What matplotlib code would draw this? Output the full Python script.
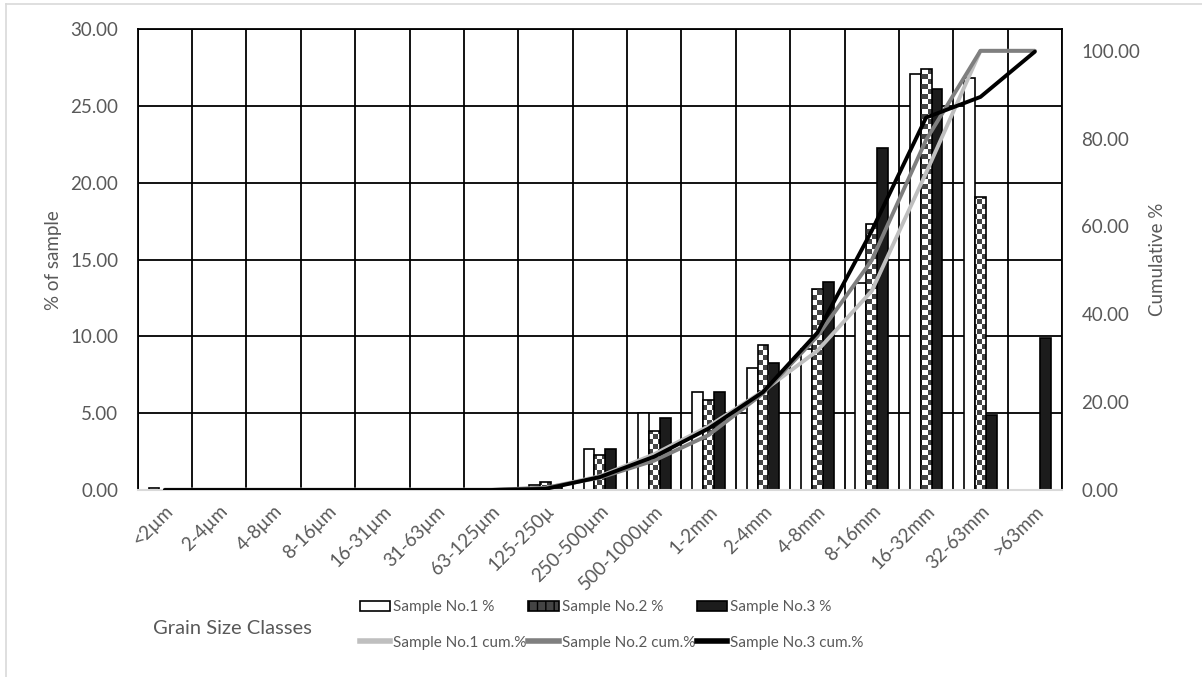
import matplotlib
matplotlib.use("Agg")
import matplotlib.pyplot as plt
import numpy as np
from matplotlib.colors import ListedColormap
from matplotlib.lines import Line2D

classes = ["<2µm", "2-4µm", "4-8µm", "8-16µm", "16-31µm", "31-63µm", "63-125µm",
           "125-250µ", "250-500µm", "500-1000µm", "1-2mm", "2-4mm", "4-8mm",
           "8-16mm", "16-32mm", "32-63mm", ">63mm"]

sample1 = [0.1, 0, 0, 0, 0, 0, 0, 0.35, 2.7, 5.0, 6.35, 7.96, 9.2, 13.45, 27.1, 26.85, 0]
sample2 = [0, 0, 0, 0, 0, 0, 0, 0.5, 2.3, 3.86, 5.86, 9.43, 13.08, 17.3, 27.4, 19.1, 0]
sample3 = [0, 0, 0, 0, 0, 0, 0, 0.25, 2.7, 4.66, 6.35, 8.3, 13.55, 22.3, 26.1, 4.9, 9.87]

cum1 = [0.1, 0.1, 0.1, 0.1, 0.1, 0.1, 0.1, 0.45, 3.15, 8.15, 14.5, 22.5, 31.7, 45.3, 72.2, 100, 100]
cum2 = [0, 0, 0, 0, 0, 0, 0, 0.5, 2.8, 6.7, 12.5, 22.0, 35.0, 52.3, 79.7, 100, 100]
cum3 = [0, 0, 0, 0, 0, 0, 0, 0.25, 2.95, 7.6, 14.0, 22.3, 35.8, 59.0, 84.8, 89.5, 99.8]

labels_bar = ["Sample No.1 %", "Sample No.2 %", "Sample No.3 %"]
labels_cum = ["Sample No.1 cum.%", "Sample No.2 cum.%", "Sample No.3 cum.%"]

txt = "#595959"
plt.rcParams["font.family"] = ["Lato", "DejaVu Sans"]

fig = plt.figure(figsize=(12.02, 6.77), dpi=100)
ax = fig.add_axes([137.7 / 1202, 1 - 490 / 677, (1062 - 137.7) / 1202, (490 - 29.3) / 677])

x = np.arange(len(classes))
w = 0.2
b1 = ax.bar(x - w, sample1, w, facecolor="white", edgecolor="black", linewidth=1.2, zorder=3)
b2 = ax.bar(x, sample2, w, facecolor="none", edgecolor="black", linewidth=1.2, zorder=4)
b3 = ax.bar(x + w, sample3, w, facecolor="#1c1c1c", edgecolor="black", linewidth=1.2, zorder=3)

# checker-board fill for sample 2, clipped to each bar
ny, nx = 92, 185
yy, xx = np.indices((ny, nx))
checker = (yy + xx) % 2
cmap = ListedColormap(["white", "#444444"])
for bar in b2:
    if bar.get_height() <= 0:
        continue
    im = ax.imshow(checker, cmap=cmap, extent=(-0.5, len(classes) - 0.5, 0, 30),
                   aspect="auto", interpolation="nearest", origin="lower", zorder=3)
    im.set_clip_path(bar)
ax.set_xlim(-0.5, len(classes) - 0.5)
ax.set_ylim(0, 30)

ax.set_yticks(np.arange(0, 31, 5))
ax.set_yticklabels([f"{v:.2f}" for v in np.arange(0, 31, 5)])
ax.set_xticks(x)
ax.set_xticklabels(classes, rotation=45, ha="right", va="top", rotation_mode="anchor")
ax.set_xticks(np.arange(-0.5, len(classes), 1), minor=True)
ax.tick_params(axis="x", which="both", length=0, pad=9, colors=txt, labelsize=13.5)
ax.tick_params(axis="y", length=0, pad=14, colors=txt, labelsize=13.5)
ax.grid(axis="y", which="major", color="black", linewidth=1.3, zorder=0)
ax.grid(axis="x", which="minor", color="black", linewidth=1.3, zorder=0)
ax.set_axisbelow(True)
for s in ["left", "top", "right"]:
    ax.spines[s].set_color("black")
    ax.spines[s].set_linewidth(1.3)
ax.spines["bottom"].set_color("#d9d9d9")
ax.spines["bottom"].set_linewidth(1.5)
ax.spines["bottom"].set_zorder(6)
ax.set_ylabel("% of sample", color=txt, fontsize=13.5, labelpad=6)

ax2 = ax.twinx()
l1, = ax2.plot(x, cum1, color="#bfbfbf", linewidth=2.8, zorder=5, solid_capstyle="round")
l2, = ax2.plot(x, cum2, color="#7f7f7f", linewidth=2.8, zorder=6, solid_capstyle="round")
l3, = ax2.plot(x, cum3, color="black", linewidth=2.8, zorder=7, solid_capstyle="round")
ax2.set_ylim(0, 104.9)
ax2.set_yticks(np.arange(0, 101, 20))
ax2.set_yticklabels([f"{v:.2f}" for v in np.arange(0, 101, 20)])
ax2.tick_params(axis="y", length=0, pad=14, colors=txt, labelsize=13.5)
for s in ax2.spines.values():
    s.set_visible(False)
ax2.set_ylabel("Cumulative %", color=txt, fontsize=13.5, labelpad=6)

fig.text(153 / 1202, 1 - 629 / 677, "Grain Size Classes", color=txt, fontsize=14.5,
         ha="left", va="center")

labels = [labels_bar[0], labels_cum[0], labels_bar[1], labels_cum[1], labels_bar[2], labels_cum[2]]
bp1 = plt.Rectangle((0, 0), 1, 1, facecolor="white", edgecolor="black", linewidth=1.2)
bp2 = plt.Rectangle((0, 0), 1, 1, facecolor="#444444", edgecolor="black", linewidth=1.2,
                    hatch="||")
bp3 = plt.Rectangle((0, 0), 1, 1, facecolor="#1c1c1c", edgecolor="black", linewidth=1.2)
lh1 = Line2D([], [], color="#bfbfbf", linewidth=4)
lh2 = Line2D([], [], color="#7f7f7f", linewidth=4)
lh3 = Line2D([], [], color="black", linewidth=4)
leg = fig.legend([bp1, lh1, bp2, lh2, bp3, lh3], labels, ncol=3, frameon=False,
                 loc="center left", bbox_to_anchor=(352 / 1202, 1 - 625 / 677),
                 fontsize=11, handlelength=2.0, handleheight=0.7, handletextpad=0.2,
                 columnspacing=0.1, labelspacing=1.4, borderpad=0)
for t in leg.get_texts():
    t.set_color(txt)

fig.add_artist(Line2D([6 / 1202, 6 / 1202], [0, 1 - 4 / 677], color="#d9d9d9",
                      linewidth=1.2, transform=fig.transFigure))
fig.add_artist(Line2D([6 / 1202, 1], [1 - 4 / 677, 1 - 4 / 677], color="#d9d9d9",
                      linewidth=1.2, transform=fig.transFigure))

fig.savefig("out.png", dpi=100)
